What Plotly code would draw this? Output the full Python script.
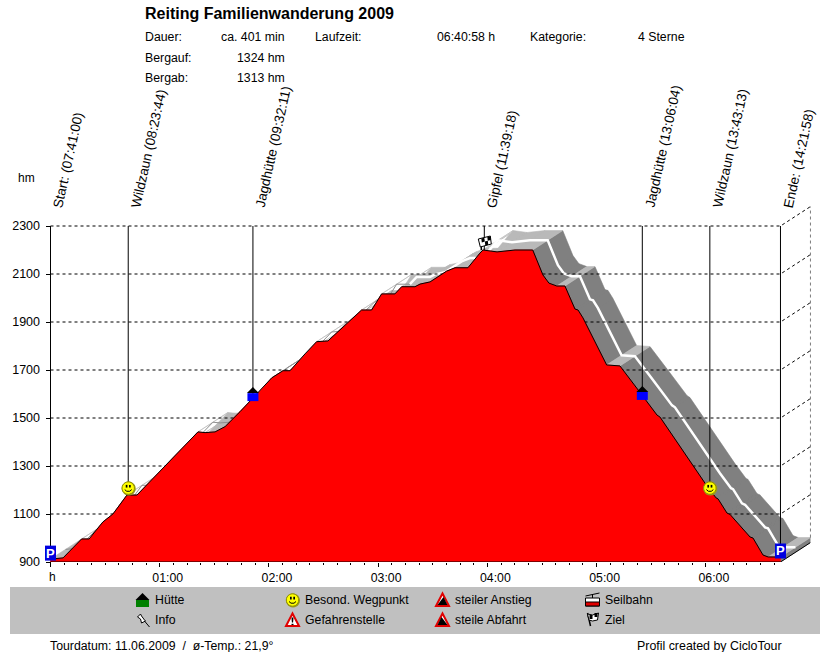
import math
import plotly.graph_objects as go

TITLE = "Reiting Familienwanderung 2009"
profile_min = [0, 6.9, 17.1, 21.2, 28.8, 34.3, 42.0, 47.5, 81.0, 84.9, 90.4, 95.9, 104.1, 108.5, 114.0, 121.5,
               127.7, 131.6, 139.8, 146.2, 152.4, 159.0, 162.7, 170.9, 176.4, 181.9, 189.2, 192.9, 200.2, 203.0,
               208.5, 215.6, 217.6, 222.2, 229.3, 235.9, 237.6, 245.3, 255.2, 264.9, 270.5, 273.8, 278.1, 282.6,
               288.1, 289.8, 292.5, 305.5, 312.8, 322.0, 333.2, 334.8, 359.5, 365.6, 366.7, 371.6, 373.3, 384.3,
               385.9, 391.4, 394.2, 401]
profile_ele = [912, 917, 996, 996, 1067, 1100, 1179, 1179, 1442, 1439, 1442, 1464, 1526, 1562, 1604, 1667,
               1697, 1697, 1767, 1818, 1821, 1867, 1896, 1950, 1950, 2017, 2017, 2047, 2047, 2058,
               2067, 2104, 2112, 2126, 2126, 2187, 2200, 2192, 2200, 2200, 2096, 2062, 2050, 2050,
               1954, 1950, 1917, 1721, 1717, 1625, 1512, 1504, 1229, 1167, 1163, 1104, 1098, 1004,
               1000, 929, 921, 921]
wp_names = ["Start: (07:41:00)", "Wildzaun (08:23:44)", "Jagdhütte (09:32:11)", "Gipfel (11:39:18)",
            "Jagdhütte (13:06:04)", "Wildzaun (13:43:13)", "Ende: (14:21:58)"]
wp_min = [0, 42.7, 111.2, 238.3, 325.1, 362.2, 401]
wp_ele = [937, 1208, 1587, 2200, 1592, 1208, 946]
wp_icon = ["park", "smile", "hut", "flag", "hut", "smile", "park"]
y_ticks = [900, 1100, 1300, 1500, 1700, 1900, 2100, 2300]
x_ticks = [60, 120, 180, 240, 300, 360]
x_labels = ["01:00", "02:00", "03:00", "04:00", "05:00", "06:00"]
minor_ticks = [7.5 * i for i in range(1, 54) if i % 8]
DEPTH_MIN, DEPTH_M = 16.48, 81.0
TOTAL_MIN, TOP_M, BASE_M = 401, 2300, 900
WHITE_FROM = 189.2
legend_items = [("hut", 142.5, 600, "Hütte"), ("pin", 142.5, 620, "Info"),
                ("smile", 292.5, 600, "Besond. Wegpunkt"), ("danger", 292.5, 620, "Gefahrenstelle"),
                ("up", 442.5, 600, "steiler Anstieg"), ("down", 442.5, 620, "steile Abfahrt"),
                ("cable", 592.5, 600, "Seilbahn"), ("goal", 592.5, 620, "Ziel")]
FONT = "Liberation Sans"
W, H = 830, 652
RENDER_H = 659

def px(x):
    return x / W
def py(y):
    return 1 - y / H

fig = go.Figure()

def line(x, y, **kw):
    fig.add_trace(go.Scatter(x=x, y=y, mode="lines", hoverinfo="skip", showlegend=False,
                             line=dict(color=kw.pop("color", "black"), width=kw.pop("width", 1), dash=kw.pop("dash", "solid"))))

def area(x, y, color):
    fig.add_trace(go.Scatter(x=x, y=y, mode="lines", fill="toself", fillcolor=color, hoverinfo="skip",
                             showlegend=False, line=dict(color=color, width=0.6)))

dark_x, dark_y, light_x, light_y = [], [], [], []
for i in range(len(profile_min) - 1):
    x0, x1, y0, y1 = profile_min[i], profile_min[i + 1], profile_ele[i], profile_ele[i + 1]
    slope = (y1 - y0) * 0.24 / ((x1 - x0) * 1.8204)
    poly_x = [x0, x1, x1 + DEPTH_MIN, x0 + DEPTH_MIN, x0, None]
    poly_y = [y0, y1, y1 + DEPTH_M, y0 + DEPTH_M, y0, None]
    if slope < -0.3:
        dark_x += poly_x
        dark_y += poly_y
    else:
        light_x += poly_x
        light_y += poly_y
dark_x += [401, 401 + DEPTH_MIN, 401 + DEPTH_MIN, 401, 401, None]
dark_y += [900, 900 + DEPTH_M, 921 + DEPTH_M, 921, 900, None]
area(dark_x, dark_y, "#808080")
area(light_x, light_y, "#b9b9b9")
mid_x = [m + DEPTH_MIN / 2 for m in profile_min]
mid_y = [e + DEPTH_M / 2 for e in profile_ele]
split = profile_min.index(WHITE_FROM)
line(mid_x[:split + 1], mid_y[:split + 1], color="#8e8e8e", width=1)
line(mid_x[split:], mid_y[split:], color="white", width=2.5)

grid_x, grid_y = [], []
for v in y_ticks[1:]:
    grid_x += [0, TOTAL_MIN, TOTAL_MIN + DEPTH_MIN, None]
    grid_y += [v, v, v + DEPTH_M, None]
line(grid_x, grid_y, dash="3px,3px")
line([TOTAL_MIN + DEPTH_MIN] * 2, [921 + DEPTH_M, TOP_M + DEPTH_M], dash="3px,3px")

area([0] + profile_min + [TOTAL_MIN, 0], [BASE_M] + profile_ele + [BASE_M, BASE_M], "#ff0000")
line(profile_min, profile_ele, width=1)
line([0, TOTAL_MIN, TOTAL_MIN + DEPTH_MIN], [BASE_M, BASE_M, BASE_M + DEPTH_M], width=1)

vx, vy = [], []
for m, e in zip(wp_min, wp_ele):
    vx += [m, m, None]
    vy += [TOP_M, e, None]
line(vx, vy)

shapes = []
def part(anchor, pts, fill=None, edge=None, width=1, close=True):
    path = "M" + " L".join(f"{a:.2f},{b:.2f}" for a, b in pts) + (" Z" if close else "")
    s = dict(type="path", path=path, xsizemode="pixel", ysizemode="pixel", layer="above",
             line=dict(color=edge or "rgba(0,0,0,0)", width=width if edge else 0), **anchor)
    if fill:
        s["fillcolor"] = fill
    shapes.append(s)

def rect(x0, y0, x1, y1):
    return [(x0, y0), (x1, y0), (x1, y1), (x0, y1)]

def circ(cx, cy, r):
    return [(cx + r * math.cos(t * math.pi / 12), cy + r * math.sin(t * math.pi / 12)) for t in range(24)]

def draw_icon(kind, a, legend=False):
    if kind == "hut":
        if legend:
            part(a, rect(-6.5, -7, 6.5, 0), fill="#008000")
            part(a, [(-7, 0), (7, 0), (0, 7)], fill="black")
        else:
            part(a, rect(-5.5, -4, 5.5, 4), fill="#0000ff")
            part(a, [(-6, 4), (6, 4), (0, 10)], fill="black")
    elif kind == "smile":
        part(a, circ(0.5, -0.5, 7), fill="#9a9a20")
        part(a, circ(0, 0, 6.2), fill="#ffff00", edge="#8c8c00", width=1)
        part(a, rect(-2.5, 0.5, -0.8, 3.2), fill="black")
        part(a, rect(0.8, 0.5, 2.5, 3.2), fill="black")
        part(a, [(-3.5, -1.5), (-1.5, -3.2), (1.5, -3.2), (3.5, -1.5)], edge="black", close=False)
    elif kind == "flag":
        part(a, [(-3, 0), (-3, 4)], edge="black", width=1.5, close=False)
        part(a, [(-6, 11), (6, 14), (7, 6), (-4, 3)], fill="white", edge="black")
        part(a, [(-3, 11.5), (0, 12.3), (0.5, 8.5), (-2.5, 7.5)], fill="black")
        part(a, [(3, 13), (6, 13.8), (6.5, 10), (3.5, 9.3)], fill="black")
        part(a, [(0.5, 8.5), (3.5, 9.3), (4, 5.3), (1, 4.6)], fill="black")
    elif kind == "pin":
        part(a, [(-5, 3), (-2, 6), (-1, 4), (2, 0), (3, -1), (-1, -3), (-2, 1)], fill="white", edge="black")
        part(a, [(2, -1), (7, -7)], edge="black", close=False)
    elif kind in ("danger", "up", "down"):
        part(a, [(-6.5, -6), (6.5, -6), (0, 6.5)], fill="white", edge="#e00000", width=2)
        if kind == "danger":
            part(a, [(-1, 2.5), (1, 2.5), (0.6, -2.5), (-0.6, -2.5)], fill="black")
            part(a, rect(-1, -3.8, 1, -5), fill="black")
        elif kind == "up":
            part(a, [(-5, -5), (5, -5), (1, 3)], fill="black")
        else:
            part(a, [(-5, -5), (5, -5), (-1, 3)], fill="black")
    elif kind == "cable":
        part(a, [(-7, 4), (7, 7)], edge="black", close=False)
        part(a, [(0, 6), (0, 2)], edge="black", close=False)
        part(a, rect(-7, -6, 7, 2), fill="white", edge="black")
        part(a, rect(-7, -6, 7, -2), fill="#e00000", edge="black")
    elif kind == "goal":
        part(a, [(-5, 7), (-2, -6)], edge="black", width=1.5, close=False)
        part(a, [(-5, 6), (0, 5), (6, 7), (5, 0), (0, -1), (-3.5, 0)], fill="white", edge="black")
        part(a, rect(-3, 1, 0, 5), fill="black")
        part(a, rect(2, 3, 5, 7), fill="black")

annotations = []
def note(x, y, text, size=12.3, anchor="left", color="black", bold=False, angle=0, valign="middle", **extra):
    annotations.append(dict(x=x, y=y, text=f"<b>{text}</b>" if bold else text, showarrow=False, xanchor=anchor,
                            yanchor=valign, textangle=angle, borderpad=0, borderwidth=0,
                            font=dict(family=FONT, size=size, color=color), **extra))

for m, e, kind in zip(wp_min, wp_ele, wp_icon):
    a = dict(xref="x", yref="y", xanchor=m, yanchor=e)
    if kind == "park":
        part(a, rect(-5.5, -7.5, 5.5, 7.5), fill="#0000e0")
        annotations.append(dict(x=m, y=e, xref="x", yref="y", text="<b>P</b>", showarrow=False, borderpad=0,
                                font=dict(family=FONT, size=13, color="white")))
    else:
        draw_icon(kind, a)

for m, name in zip(wp_min, wp_names):
    note(m, py(209), name, size=13.5, angle=-77.5, valign="bottom", xref="x", yref="paper", xshift=0)

shapes.insert(0, dict(type="rect", xref="paper", yref="paper", x0=px(10), x1=px(820), y0=py(587), y1=py(634),
                      fillcolor="#c0c0c0", line=dict(width=0), layer="below"))
for kind, x, y, label in legend_items:
    a = dict(xref="paper", yref="paper", xanchor=px(x), yanchor=py(y))
    draw_icon(kind, a, legend=True)
    note(px(x + 12.5), py(y), label, xref="paper", yref="paper")

P = dict(xref="paper", yref="paper")
note(px(145), py(14), TITLE, size=16, bold=True, **P)
note(px(145), py(37.5), "Dauer:", **P)
note(px(285), py(37.5), "ca. 401 min", anchor="right", **P)
note(px(315), py(37.5), "Laufzeit:", **P)
note(px(495), py(37.5), "06:40:58 h", anchor="right", **P)
note(px(530), py(37.5), "Kategorie:", **P)
note(px(685), py(37.5), "4 Sterne", anchor="right", **P)
note(px(145), py(58), "Bergauf:", **P)
note(px(285), py(58), "1324 hm", anchor="right", **P)
note(px(145), py(78), "Bergab:", **P)
note(px(285), py(78), "1313 hm", anchor="right", **P)
note(px(18), py(178), "hm", size=12, **P)
note(px(49), py(577), "h", size=12, **P)
note(px(50), py(646), "Tourdatum: 11.06.2009  /  ø-Temp.: 21,9°", **P)
note(px(637), py(646), "Profil created by CicloTour", size=12.4, **P)

fig.update_layout(
    width=W, height=RENDER_H, margin=dict(l=0, r=0, t=0, b=0, pad=0), autosize=False,
    paper_bgcolor="white", plot_bgcolor="rgba(0,0,0,0)", showlegend=False,
    shapes=shapes, annotations=annotations, font=dict(family=FONT, size=12, color="black"),
    xaxis=dict(domain=[40 / W, 810.5 / W], range=[-10.5 / 1.8204, 760 / 1.8204], showgrid=False, zeroline=False,
               tickmode="array", tickvals=[0] + x_ticks, ticktext=[""] + x_labels, ticks="outside", ticklen=4,
               tickwidth=1, tickcolor="black", ticklabelshift=8, tickfont=dict(family=FONT, size=12.3),
               minor=dict(tickmode="array", tickvals=minor_ticks, ticks="outside", ticklen=2, tickcolor="black", tickwidth=1)),
    yaxis=dict(domain=[90 / H, 446 / H], range=[900, 900 + 356 / 0.24], showgrid=False, zeroline=False,
               anchor="free", position=50.5 / W,
               tickmode="array", tickvals=y_ticks, ticktext=[str(v) for v in y_ticks], ticks="outside", ticklen=5,
               tickwidth=1, tickcolor="black", ticklabelstandoff=3, tickfont=dict(family=FONT, size=12.5)),
)
fig.write_html("out.html", config=dict(displayModeBar=False),
               post_script="document.body.style.margin='0';document.body.style.overflow='hidden';")
